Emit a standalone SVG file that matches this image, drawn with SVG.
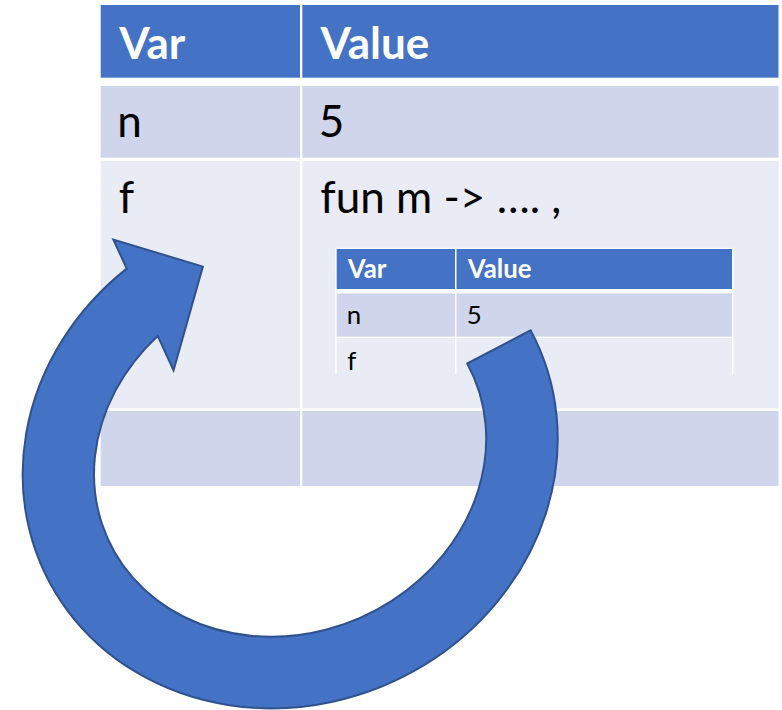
<svg xmlns="http://www.w3.org/2000/svg" width="782" height="710" viewBox="0 0 782 710">
  <style>
    .hd { fill: #4472C4; }
    .r1 { fill: #CFD5EA; }
    .r2 { fill: #E9EBF5; }
    text { font-family: Lato, "Liberation Sans", sans-serif; fill: #000; }
    .th { font-weight: bold; fill: #fff; }
    .big { font-size: 44px; }
    .sm { font-size: 25.8px; }
    .arrow { fill: #4472C4; stroke: #2F528F; stroke-width: 2; stroke-linejoin: miter; }
  </style>
  <rect width="782" height="710" fill="#fff"/>

  <!-- outer environment table -->
  <g id="outer-table">
    <rect class="hd" x="100.7" y="5" width="199.3" height="72.7"/>
    <rect class="hd" x="302.3" y="5" width="476.2" height="72.7"/>
    <rect class="r1" x="100.7" y="86" width="199.3" height="71.7"/>
    <rect class="r1" x="302.3" y="86" width="476.2" height="71.7"/>
    <rect class="r2" x="100.7" y="161" width="199.3" height="247.3"/>
    <rect class="r2" x="302.3" y="161" width="476.2" height="247.3"/>
    <rect class="r1" x="100.7" y="411" width="199.3" height="75"/>
    <rect class="r1" x="302.3" y="411" width="476.2" height="75"/>
    <text class="th big" x="119.3" y="59">Var</text>
    <text class="th big" x="320.5" y="59">Value</text>
    <text class="big" x="117.3" y="137">n</text>
    <text class="big" x="318.8" y="137">5</text>
    <text class="big" x="118.8" y="213">f</text>
    <text class="big" x="320.3" y="213">fun m -&gt; …. ,</text>
  </g>

  <!-- nested environment table captured by the closure -->
  <g id="inner-table">
    <rect fill="#fff" x="335.2" y="247.8" width="398.3" height="126.2"/>
    <rect class="hd" x="336.7" y="249" width="118.3" height="40"/>
    <rect class="hd" x="456.5" y="249" width="275.5" height="40"/>
    <rect class="r1" x="336.7" y="293.3" width="118.3" height="43.4"/>
    <rect class="r1" x="456.5" y="293.3" width="275.5" height="43.4"/>
    <rect class="r2" x="336.7" y="338" width="118.3" height="36"/>
    <rect class="r2" x="456.5" y="338" width="275.5" height="36"/>
    <text class="th sm" x="347.8" y="278">Var</text>
    <text class="th sm" x="467.8" y="278">Value</text>
    <text class="sm" x="346.8" y="324">n</text>
    <text class="sm" x="466.8" y="323.5">5</text>
    <text class="sm" x="347.3" y="370">f</text>
  </g>

  <!-- circular arrow: elliptical band, tilted -->
  <g id="connectors">
    <g id="cycle-arrow" transform="translate(290.2 456.5) rotate(-24.7)">
      <path class="arrow" d="M 271.1 -14.2 A 271.6 247.4 0 1 1 -70 -239 L -70 -271 L 0 -209 L -70 -127 L -70 -164.9 A 200.1 175.9 0 1 0 199.7 -10.5 Z"/>
    </g>
  </g>
</svg>
